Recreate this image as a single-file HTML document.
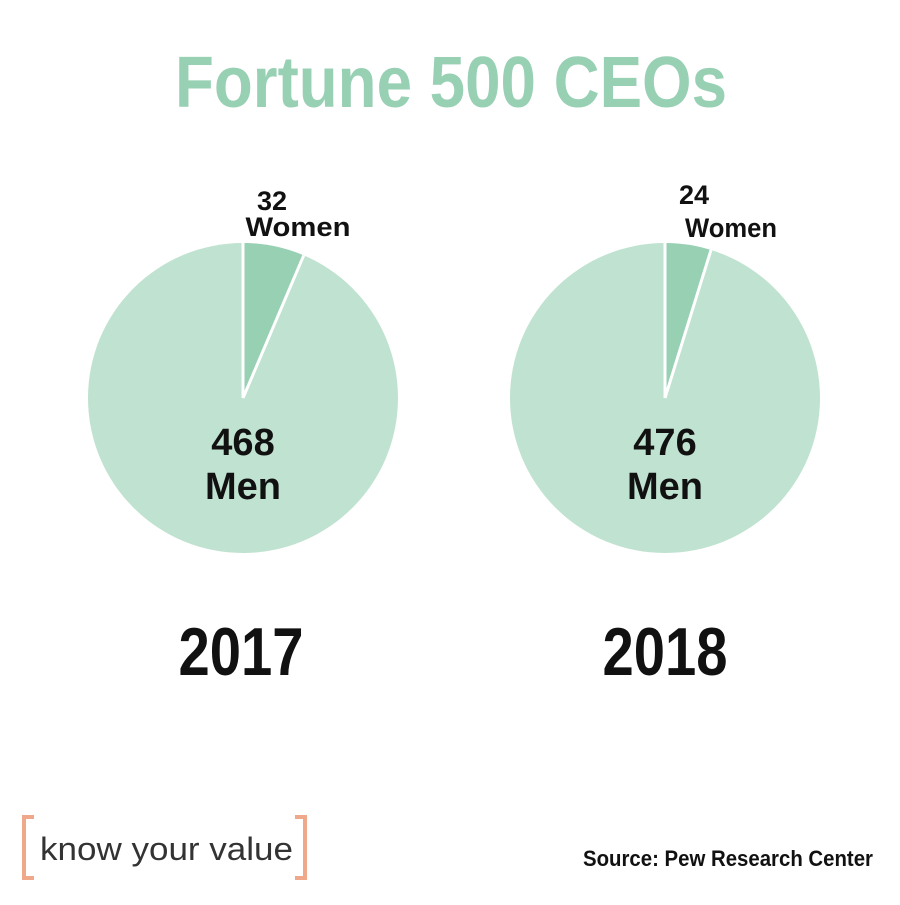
<!DOCTYPE html>
<html><head><meta charset="utf-8"><style>html,body{margin:0;padding:0;background:#fff}</style></head>
<body>
<svg width="900" height="900" viewBox="0 0 900 900" xmlns="http://www.w3.org/2000/svg" font-family="Liberation Sans, sans-serif" font-weight="bold">
<rect width="900" height="900" fill="#fff"/>
<text x="451" y="107" text-anchor="middle" font-size="72" fill="#98d0b4" textLength="552" lengthAdjust="spacingAndGlyphs">Fortune 500 CEOs</text>
<circle cx="243" cy="398" r="155" fill="#c0e2d0"/>
<path d="M243 398 L243 243 A155 155 0 0 1 303.7 255.4 Z" fill="#98d0b4"/>
<path d="M243 398 L243 243 M243 398 L303.7 255.4" stroke="#fff" stroke-width="3" fill="none"/>
<circle cx="665" cy="398" r="155" fill="#c0e2d0"/>
<path d="M665 398 L665 243 A155 155 0 0 1 711 250 Z" fill="#98d0b4"/>
<path d="M665 398 L665 243 M665 398 L711 250" stroke="#fff" stroke-width="3" fill="none"/>
<g fill="#111" text-anchor="middle">
<text x="272" y="210" font-size="27">32</text>
<text x="298" y="236" font-size="27" textLength="105" lengthAdjust="spacingAndGlyphs">Women</text>
<text x="694" y="204" font-size="27">24</text>
<text x="731" y="237" font-size="27" textLength="92" lengthAdjust="spacingAndGlyphs">Women</text>
<text x="243" y="455" font-size="38">468</text>
<text x="243" y="499" font-size="38">Men</text>
<text x="665" y="455" font-size="38">476</text>
<text x="665" y="499" font-size="38">Men</text>
<text x="241" y="675" font-size="68" textLength="125" lengthAdjust="spacingAndGlyphs">2017</text>
<text x="665" y="675" font-size="68" textLength="125" lengthAdjust="spacingAndGlyphs">2018</text>
</g>
<path d="M34 817 H24 V878 H34" stroke="#f0a88a" stroke-width="4" fill="none"/>
<path d="M295 817 H305 V878 H295" stroke="#f0a88a" stroke-width="4" fill="none"/>
<text x="40" y="860" font-size="32" font-weight="normal" fill="#333" textLength="253" lengthAdjust="spacingAndGlyphs">know your value</text>
<text x="583" y="866" font-size="22" fill="#111" textLength="290" lengthAdjust="spacingAndGlyphs">Source: Pew Research Center</text>
</svg>
</body></html>
